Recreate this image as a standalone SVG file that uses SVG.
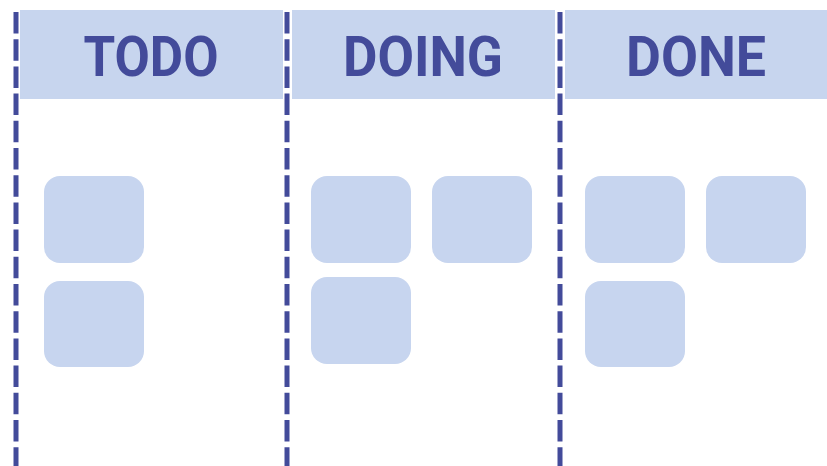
<svg xmlns="http://www.w3.org/2000/svg" width="827" height="466" viewBox="0 0 827 466">
<style>
.hdr{fill:#c7d5ee}
.card{fill:#c7d5ef}
.lbl{font-family:Roboto,"Liberation Sans",sans-serif;font-weight:bold;font-size:55px;fill:#434b9a;text-anchor:middle}
.sep{stroke:#434b9a;stroke-width:5;stroke-dasharray:21.5 5.7;fill:none}
</style>
<rect width="827" height="466" fill="#ffffff"/>
<g id="col-todo">
<rect class="hdr" x="20" y="10" width="263" height="89"/>
<text class="lbl" x="151" y="76" textLength="135" lengthAdjust="spacingAndGlyphs">TODO</text>
</g>
<g id="col-doing">
<rect class="hdr" x="292" y="10" width="263" height="89"/>
<text class="lbl" x="423" y="76" textLength="160" lengthAdjust="spacingAndGlyphs">DOING</text>
</g>
<g id="col-done">
<rect class="hdr" x="565" y="10" width="262" height="89"/>
<text class="lbl" x="696" y="76" textLength="140" lengthAdjust="spacingAndGlyphs">DONE</text>
</g>
<g id="card-todo-1"><rect class="card" x="44" y="176" width="100" height="87" rx="16"/></g>
<g id="card-todo-2"><rect class="card" x="44" y="281" width="100" height="86" rx="16"/></g>
<g id="card-doing-1"><rect class="card" x="311" y="176" width="100" height="87" rx="16"/></g>
<g id="card-doing-2"><rect class="card" x="432" y="176" width="100" height="87" rx="16"/></g>
<g id="card-doing-3"><rect class="card" x="311" y="277" width="100" height="87" rx="16"/></g>
<g id="card-done-1"><rect class="card" x="585" y="176" width="100" height="87" rx="16"/></g>
<g id="card-done-2"><rect class="card" x="706" y="176" width="100" height="87" rx="16"/></g>
<g id="card-done-3"><rect class="card" x="585" y="281" width="100" height="86" rx="16"/></g>
<g id="separators">
<line class="sep" x1="16" y1="12" x2="16" y2="466"/>
<line class="sep" x1="287" y1="12" x2="287" y2="466"/>
<line class="sep" x1="560" y1="12" x2="560" y2="466"/>
</g>
</svg>
